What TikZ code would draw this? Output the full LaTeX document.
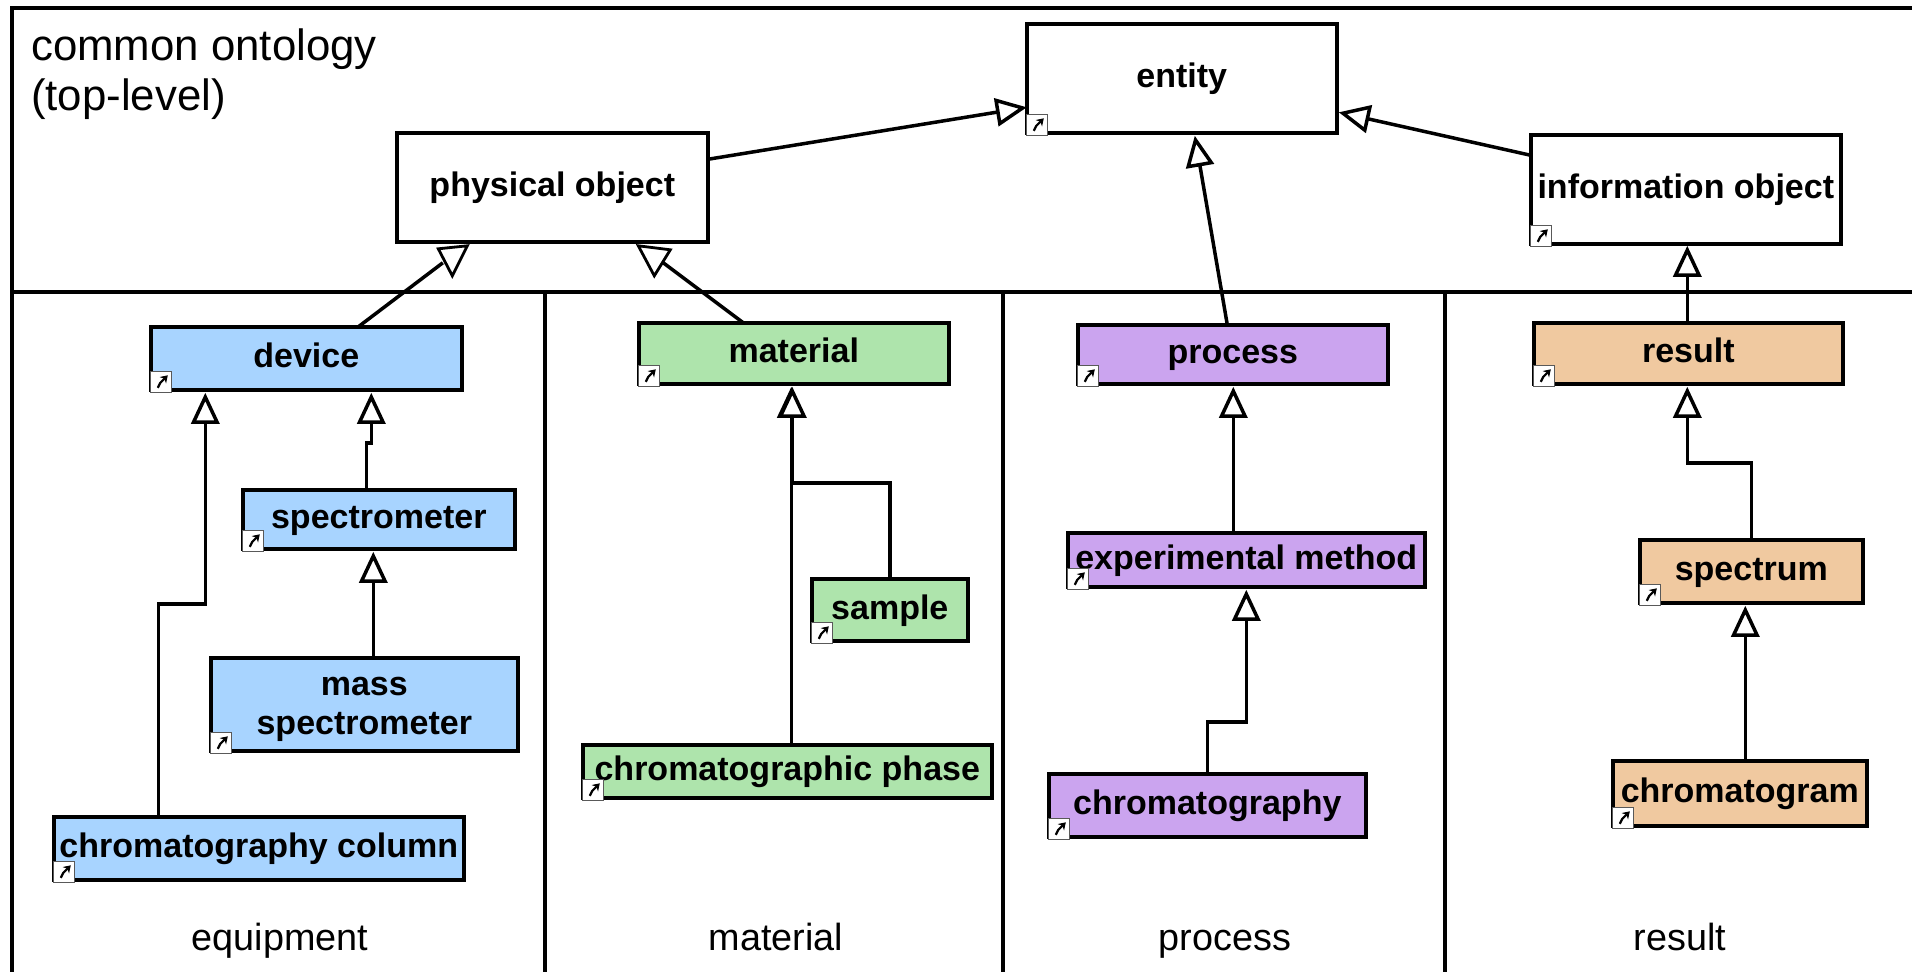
\documentclass[tikz,border=0pt]{standalone}
\usepackage{fontspec}
\setmainfont{Liberation Sans}
\usetikzlibrary{arrows.meta}
\definecolor{cblue}{HTML}{A8D4FF}
\definecolor{cgreen}{HTML}{AEE4AC}
\definecolor{cpurple}{HTML}{CBA4EF}
\definecolor{corange}{HTML}{F0C9A0}
\tikzset{
  box/.style={draw=black,line width=4pt,outer sep=0pt,inner sep=0pt,align=center,xshift=-0.7pt,yshift=0.7pt,
    font=\fontsize{34}{39}\selectfont\bfseries,text height=27pt,text depth=8pt},
  white box/.style={box,fill=white},
  blue box/.style={box,fill=cblue},
  green box/.style={box,fill=cgreen},
  purple box/.style={box,fill=cpurple},
  orange box/.style={box,fill=corange},
  frame line/.style={line width=3.2pt,draw=black},
  isa/.style={line width=3.5pt,draw=black,line join=miter,
    -{Triangle[open,fill=white,length=31pt,width=28pt]}},
  link/.style={line width=3.5pt,draw=black},
  open tri/.style={line width=2.8pt,draw=black,fill=white,line join=miter},
  zone label/.style={font=\fontsize{37.8}{44}\selectfont,inner sep=0pt,anchor=base},
  badge box/.style={draw=black!65,fill=white,line width=1.2pt,minimum width=21pt,minimum height=21pt,
    inner sep=0pt,outer sep=0pt,anchor=south west},
}
\newcommand{\shortcutbadge}[1]{%
  \node[badge box] (#1-badge) at ([xshift=0pt,yshift=-2.5pt]#1.south west) {};
  \draw[line width=2.2pt,black,-{Stealth[length=7pt,width=9pt]}]
    ([xshift=-3.5pt,yshift=-6pt]#1-badge.center) -- ([xshift=-1pt,yshift=-1pt]#1-badge.center) -- ([xshift=6.5pt,yshift=6.5pt]#1-badge.center);
}
\begin{document}
\begin{tikzpicture}[x=1pt,y=-1pt]
\useasboundingbox (0,0) rectangle (1912,972);
\fill[white] (0,0) rectangle (1912,972);
% frame
\draw[frame line] (1912,8) -- (12,8) -- (12,972);
\draw[frame line] (12,292) -- (1912,292);
\draw[frame line] (545,292) -- (545,972);
\draw[frame line] (1003,292) -- (1003,972);
\draw[frame line] (1445,292) -- (1445,972);
% labels
\node[font=\fontsize{43.8}{50}\selectfont,align=left,inner sep=0pt,anchor=north west] (title) at (31,29) {common ontology\\(top-level)};
\node[zone label] (zone-equipment) at (280,950) {equipment};
\node[zone label] (zone-material) at (776,950) {material};
\node[zone label] (zone-process) at (1225,950) {process};
\node[zone label] (zone-result) at (1680,950) {result};
% top-level boxes
\node[white box,minimum width=311pt,minimum height=109pt] (phys) at (553,188) {physical object};
\node[white box,minimum width=310pt,minimum height=109pt] (entity) at (1182.5,79) {entity};
\node[white box,minimum width=310pt,minimum height=109pt] (info) at (1686.5,190) {information object};
% equipment
\node[blue box,minimum width=311pt,minimum height=63pt] (device) at (307,359) {device};
\node[blue box,minimum width=272pt,minimum height=59pt] (spectrometer) at (379.5,520) {spectrometer};
\node[blue box,minimum width=307pt,minimum height=93pt,text height=,text depth=] (mass) at (365,705) {\rule{0pt}{28pt}mass\\spectrometer};
\node[blue box,minimum width=410pt,minimum height=63pt] (column) at (259.5,849) {chromatography column};
% material
\node[green box,minimum width=310pt,minimum height=61pt] (material) at (794.5,354) {material};
\node[green box,minimum width=156pt,minimum height=62pt] (sample) at (890.5,610.5) {sample};
\node[green box,minimum width=409pt,minimum height=53pt] (phase) at (788,772) {chromatographic phase};
% process
\node[purple box,minimum width=310pt,minimum height=59pt] (process) at (1233.5,355) {process};
\node[purple box,minimum width=357pt,minimum height=54pt] (method) at (1247,560.5) {experimental method};
\node[purple box,minimum width=317pt,minimum height=63pt] (chromy) at (1208,806) {chromatography};
% result
\node[orange box,minimum width=309pt,minimum height=61pt] (result) at (1689,354) {result};
\node[orange box,minimum width=223pt,minimum height=63pt] (spectrum) at (1752,572) {spectrum};
\node[orange box,minimum width=254pt,minimum height=65pt] (chromgram) at (1740.5,794) {chromatogram};
% badges
\shortcutbadge{entity}\shortcutbadge{info}\shortcutbadge{device}\shortcutbadge{spectrometer}
\shortcutbadge{mass}\shortcutbadge{column}\shortcutbadge{material}\shortcutbadge{sample}
\shortcutbadge{phase}\shortcutbadge{process}\shortcutbadge{method}\shortcutbadge{chromy}
\shortcutbadge{result}\shortcutbadge{spectrum}\shortcutbadge{chromgram}
% connectors top
\draw[isa] ([yshift=28pt]phys.east) -- ([yshift=-29pt]entity.west);
\draw[isa] ([yshift=34pt]info.west) -- ([xshift=2pt,yshift=-34pt]entity.east);
\draw[isa] ([xshift=-5.5pt]process.north) -- ([xshift=13pt,yshift=-3pt]entity.south);
\draw[isa] ([xshift=-1pt]result.north) -- ([xshift=1.5pt,yshift=-2pt]info.south);
% rotated (downward) heads under physical object
\coordinate (ta) at ([xshift=-109.5pt,yshift=-21pt]phys.south);
\coordinate (tb) at ([xshift=111pt,yshift=-21pt]phys.south);
\draw[link] ([xshift=52pt]device.north) -- (ta);
\draw[link] ([xshift=-50.5pt]material.north) -- (tb);
\draw[open tri] ([xshift=-114pt,yshift=-7pt]phys.south) -- ([xshift=-85pt,yshift=-4pt]phys.south) -- ([xshift=-100pt,yshift=-34pt]phys.south) -- cycle;
\draw[open tri] ([xshift=86pt,yshift=-4pt]phys.south) -- ([xshift=118pt,yshift=-8pt]phys.south) -- ([xshift=102pt,yshift=-34pt]phys.south) -- cycle;
% equipment connectors
\draw[isa] ([xshift=-100.5pt]column.north) -- ++(0,-213) -| ([xshift=-101pt,yshift=-3pt]device.south);
\draw[isa] ([xshift=-12.5pt]spectrometer.north) -- ++(0,-47) -| ([xshift=65pt,yshift=-3pt]device.south);
\draw[isa] ([xshift=9pt]mass.north) -- ([xshift=-5.5pt,yshift=-3pt]spectrometer.south);
% material connectors
\draw[isa] ([xshift=4pt]phase.north) -- ([xshift=-2.5pt,yshift=-3pt]material.south);
\draw[isa] (sample.north) -- ++(0,-96) -| ([xshift=-1.5pt,yshift=-3pt]material.south);
% process connectors
\draw[isa] ([xshift=-13pt]method.north) -- ([xshift=0.5pt,yshift=-3pt]process.south);
\draw[isa] (chromy.north) -- ++(0,-52) -| ([yshift=-3pt]method.south);
% result connectors
\draw[isa] (spectrum.north) -- ++(0,-77) -| ([xshift=-1pt,yshift=-3pt]result.south);
\draw[isa] ([xshift=5.5pt]chromgram.north) -- ([xshift=-6pt,yshift=-3pt]spectrum.south);
\end{tikzpicture}
\end{document}
